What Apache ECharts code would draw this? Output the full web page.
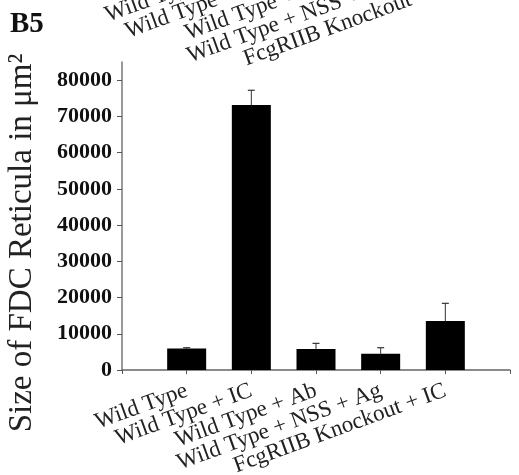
<!DOCTYPE html>
<html><head><meta charset="utf-8">
<script src="https://cdn.jsdelivr.net/npm/echarts@6/dist/echarts.min.js"></script>
<style>html,body{margin:0;padding:0;background:#fff}#c{width:519px;height:475px}</style>
</head><body><div id="c"></div>
<script>
// ---- data ----
const categories = ['Wild Type', 'Wild Type + IC', 'Wild Type + Ab', 'Wild Type + NSS + Ag', 'FcgRIIB Knockout + IC'];
const meanValues = [5900, 73100, 5800, 4500, 13500];
const errorTops = [6150, 77200, 7350, 6150, 18400];
const yTickValues = [0, 10000, 20000, 30000, 40000, 50000, 60000, 70000, 80000];
const yAxisMax = 85000;
const panelLetter = 'B5';
const yTitle = 'Size of FDC Reticula in μm²';
// labels of the neighbouring panel, cut off at the top edge of the picture
const abovePanelLabels = ['Wild Type', 'Wild Type + IC', 'Wild Type + Ab', 'Wild Type + NSS + Ag', 'FcgRIIB Knockout + IC'];

// ---- chart ----
const SERIF = '"Liberation Serif", "DejaVu Serif", serif';
const xData = [''].concat(categories, ['']);
const barData = ['-'].concat(meanValues, ['-']);
const errData = categories.map((c, i) => [i + 1, meanValues[i], errorTops[i]]);
const LABEL_MARGIN = 20;

const chart = echarts.init(document.getElementById('c'), null, {renderer: 'canvas'});
chart.setOption({
  animation: false,
  backgroundColor: '#fff',
  grid: {left: 122, right: 9, top: 62, bottom: 105, containLabel: false, outerBoundsMode: 'none'},
  xAxis: {
    type: 'category', data: xData, boundaryGap: false,
    axisLine: {lineStyle: {color: '#666', width: 1.5}},
    axisTick: {interval: 0, length: 4, lineStyle: {color: '#555'}},
    axisLabel: {interval: 0, rotate: 20, margin: LABEL_MARGIN, fontSize: 23, fontFamily: SERIF, color: '#222'},
    splitLine: {show: false}
  },
  yAxis: {
    type: 'value', min: 0, max: yAxisMax,
    axisLine: {show: true, lineStyle: {color: '#777', width: 1.5}},
    axisTick: {show: true, length: 5, customValues: yTickValues, lineStyle: {color: '#555'}},
    axisLabel: {customValues: yTickValues, margin: 10, fontSize: 22, fontWeight: 'bold', fontFamily: SERIF, color: '#111',
      formatter: v => String(v)},
    splitLine: {show: false}
  },
  series: [
    {type: 'bar', data: barData, barWidth: 39, itemStyle: {color: '#000'}, z: 2},
    {type: 'custom', data: errData, z: 3,
      renderItem: function (params, api) {
        const xi = api.value(0);
        const base = api.coord([xi, api.value(1)]);
        const top = api.coord([xi, api.value(2)]);
        const cap = 3.5;
        return {type: 'group', children: [
          {type: 'line', shape: {x1: base[0], y1: base[1], x2: top[0], y2: top[1]}, style: {stroke: '#333', lineWidth: 1}},
          {type: 'line', shape: {x1: top[0] - cap, y1: top[1], x2: top[0] + cap, y2: top[1]}, style: {stroke: '#333', lineWidth: 1.2}}
        ]};
      }
    }
  ]
});

// graphic: panel letter, y title and cut-off labels of the panel above
const axisY = chart.convertToPixel({yAxisIndex: 0}, 0);
const graphics = [
  {type: 'text', left: 10, top: 10,
    style: {text: panelLetter, font: 'bold 29px ' + SERIF, fill: '#111'}},
  {type: 'text', x: 22, y: 243, rotation: Math.PI / 2,
    style: {text: yTitle, font: '33px ' + SERIF, fill: '#222', align: 'center', verticalAlign: 'middle'}}
];
abovePanelLabels.forEach((t, i) => {
  const px = chart.convertToPixel({xAxisIndex: 0}, i + 1);
  graphics.push({
    type: 'text', x: px + 10, y: axisY + LABEL_MARGIN - 407, rotation: 20 * Math.PI / 180,
    style: {text: t, font: '23px ' + SERIF, fill: '#222', align: 'right', verticalAlign: 'middle'}
  });
});
chart.setOption({graphic: graphics});
</script></body></html>
